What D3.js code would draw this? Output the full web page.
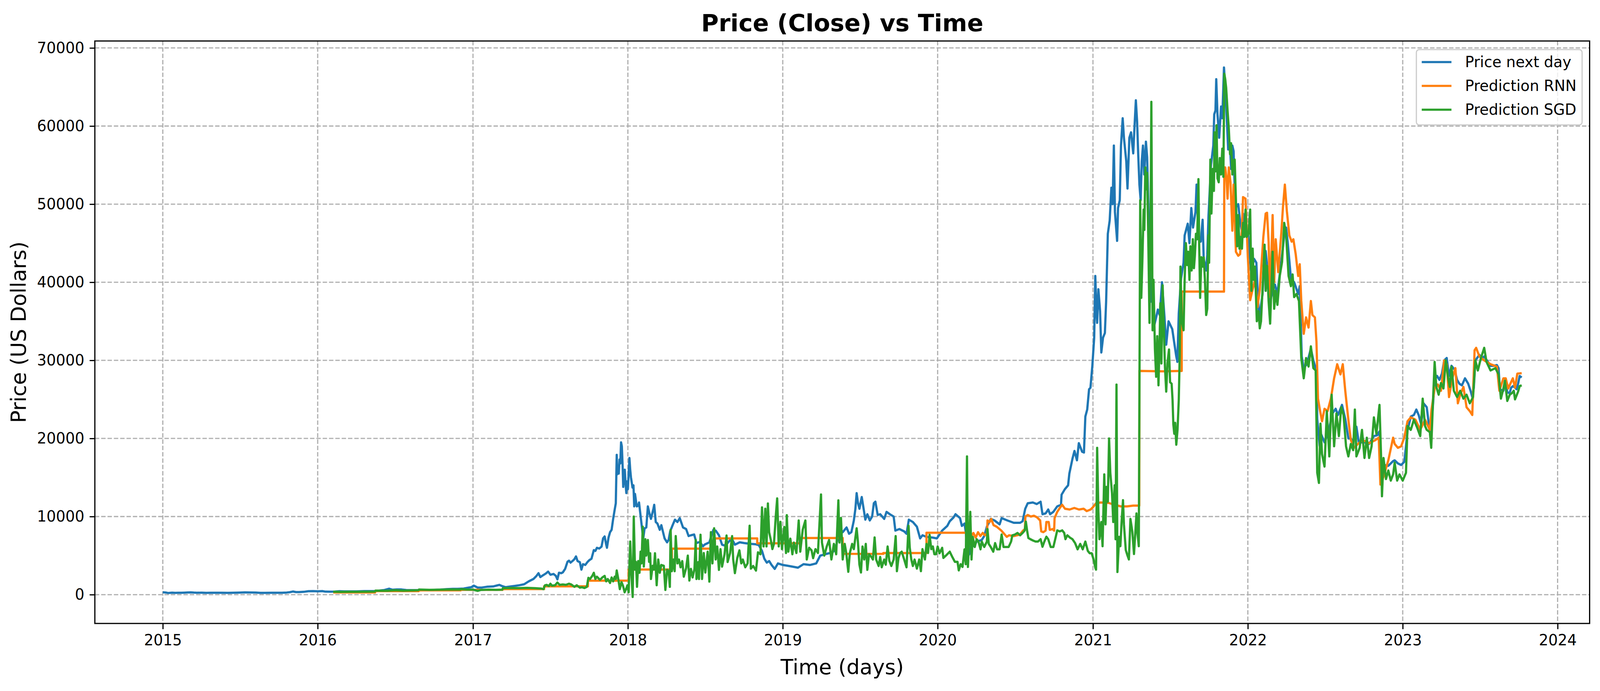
<!DOCTYPE html>
<meta charset="UTF-8">
<style>
  html, body { margin: 0; padding: 0; background: #fff; overflow: hidden; }
  svg { display: block; }
  text { font-family: "DejaVu Sans", sans-serif; }
</style>
<svg></svg>
<script src="https://d3js.org/d3.v7.min.js"></script>
<script>

// time is given as a decimal year, value in US dollars
var priceNextDay = [
  [2015.000,315],[2015.010,285],[2015.020,270],[2015.035,210],[2015.045,230],[2015.060,255],[2015.080,225],[2015.100,240],
  [2015.120,235],[2015.140,255],[2015.160,275],[2015.180,290],[2015.200,260],[2015.220,245],[2015.250,250],[2015.280,225],
  [2015.310,235],[2015.340,240],[2015.380,237],[2015.420,230],[2015.450,245],[2015.480,255],[2015.500,265],[2015.530,285],
  [2015.560,280],[2015.600,265],[2015.630,225],[2015.660,230],[2015.700,240],[2015.740,236],[2015.770,245],[2015.800,270],
  [2015.820,315],[2015.840,400],[2015.860,330],[2015.880,325],[2015.910,360],[2015.940,440],[2015.970,455],[2016.000,430],
  [2016.030,450],[2016.050,385],[2016.080,380],[2016.110,395],[2016.140,435],[2016.170,415],[2016.210,416],[2016.250,420],
  [2016.300,450],[2016.340,455],[2016.380,450],[2016.400,530],[2016.430,590],[2016.460,760],[2016.480,630],[2016.510,670],
  [2016.540,660],[2016.570,590],[2016.600,575],[2016.650,580],[2016.700,605],[2016.750,610],[2016.790,640],[2016.830,700],
  [2016.870,735],[2016.900,740],[2016.940,780],[2016.970,890],[2016.990,960],
  [2017.005,1150],[2017.030,900],[2017.060,920],[2017.090,1010],[2017.130,1050],[2017.170,1250],[2017.190,1080],[2017.210,960],
  [2017.240,1040],[2017.270,1120],[2017.300,1210],[2017.330,1330],[2017.360,1700],[2017.390,2000],[2017.410,2400],[2017.423,2750],
  [2017.435,2250],[2017.450,2450],[2017.470,2700],[2017.485,2950],[2017.500,2550],[2017.520,2650],[2017.535,2400],[2017.545,1950],
  [2017.555,2800],[2017.570,2750],[2017.580,2850],[2017.595,3300],[2017.610,4200],[2017.620,4350],[2017.630,4100],[2017.645,4350],
  [2017.655,4550],[2017.665,4900],[2017.675,4300],[2017.690,4150],[2017.700,3200],[2017.710,3900],[2017.725,3800],[2017.740,4200],
  [2017.750,4400],[2017.765,4600],[2017.780,5700],[2017.790,5600],[2017.800,6000],[2017.815,5900],[2017.830,6150],[2017.840,7200],
  [2017.850,7450],[2017.860,6400],[2017.865,6000],[2017.875,7300],[2017.885,8000],[2017.895,8300],[2017.905,9700],[2017.915,10900],
  [2017.922,11700],[2017.928,17900],[2017.931,15400],[2017.936,16500],[2017.941,15500],[2017.946,17300],[2017.951,16800],[2017.956,19500],
  [2017.961,19000],[2017.966,16500],[2017.970,13800],[2017.975,15500],[2017.980,16000],[2017.985,14200],[2017.990,13000],[2017.995,14500],
  [2018.000,13500],[2018.010,17500],[2018.015,16000],[2018.020,15000],[2018.030,13700],[2018.036,14000],[2018.041,11300],[2018.046,12900],
  [2018.057,11300],[2018.067,11400],[2018.072,11800],[2018.082,10100],[2018.093,8200],[2018.098,7000],[2018.108,8500],[2018.119,8600],
  [2018.129,11300],[2018.139,10400],[2018.149,9700],[2018.165,11000],[2018.170,11500],[2018.180,9300],[2018.191,9100],[2018.206,8300],
  [2018.216,8900],[2018.237,7200],[2018.253,6700],[2018.263,7000],[2018.273,8100],[2018.289,8900],[2018.304,9600],[2018.320,9300],
  [2018.335,9800],[2018.356,8600],[2018.376,8400],[2018.392,7500],[2018.407,7600],[2018.428,7700],[2018.443,6600],[2018.464,6750],
  [2018.485,6200],[2018.495,6400],[2018.526,6700],[2018.552,8300],[2018.567,8200],[2018.588,7600],[2018.608,6400],[2018.624,6300],
  [2018.639,6500],[2018.670,7200],[2018.691,6400],[2018.722,6700],[2018.753,6600],[2018.794,6500],[2018.825,6450],[2018.845,6350],
  [2018.866,5600],[2018.881,4600],[2018.897,4100],[2018.912,4300],[2018.928,3800],[2018.948,3300],[2018.969,4000],[2018.985,3900],
  [2019.000,3800],[2019.031,3700],[2019.072,3550],[2019.098,3450],[2019.134,3900],[2019.175,3800],[2019.216,4000],[2019.242,5000],
  [2019.278,5200],[2019.320,5400],[2019.340,5800],[2019.361,7800],[2019.387,8000],[2019.412,8600],[2019.428,7800],[2019.443,8000],
  [2019.459,9500],[2019.469,11000],[2019.477,13000],[2019.485,11800],[2019.495,11000],[2019.510,12500],[2019.526,10500],[2019.533,9600],
  [2019.546,10300],[2019.562,9500],[2019.577,10000],[2019.588,11700],[2019.598,11900],[2019.613,10200],[2019.629,10300],[2019.655,9700],
  [2019.670,10600],[2019.691,10300],[2019.716,10000],[2019.727,8200],[2019.753,8400],[2019.784,8100],[2019.799,7800],[2019.814,9600],
  [2019.840,9300],[2019.866,8700],[2019.887,7200],[2019.902,7600],[2019.928,7400],[2019.969,7300],[2019.995,7200],
  [2020.029,8200],[2020.062,8800],[2020.078,9400],[2020.103,9900],[2020.115,10300],[2020.144,9800],[2020.156,8800],[2020.173,9100],
  [2020.181,8000],[2020.189,6400],[2020.198,5000],[2020.206,5300],[2020.218,6400],[2020.235,6200],[2020.251,6800],[2020.284,7000],
  [2020.300,7500],[2020.317,8700],[2020.342,9700],[2020.366,9500],[2020.399,9000],[2020.412,9800],[2020.449,9500],[2020.490,9200],
  [2020.531,9200],[2020.547,9400],[2020.564,11000],[2020.580,11700],[2020.613,11800],[2020.638,11600],[2020.663,11900],[2020.675,10300],
  [2020.695,10400],[2020.712,10900],[2020.724,10300],[2020.745,10600],[2020.770,11300],[2020.794,11500],[2020.798,12800],[2020.819,13500],
  [2020.840,14000],[2020.848,15500],[2020.868,17400],[2020.881,18400],[2020.897,17200],[2020.909,19400],[2020.930,18300],[2020.942,18200],
  [2020.951,22800],[2020.963,23700],[2020.975,26300],[2020.984,26500],[2020.996,29300],
  [2021.008,32900],[2021.015,40800],[2021.023,36000],[2021.027,34800],[2021.035,39100],[2021.046,36300],[2021.054,31000],[2021.065,32900],
  [2021.077,33500],[2021.085,37500],[2021.096,46200],[2021.108,47900],[2021.119,52100],[2021.127,50000],[2021.135,57500],[2021.142,49000],
  [2021.156,45300],[2021.162,49500],[2021.173,50500],[2021.181,57500],[2021.192,61000],[2021.200,58500],[2021.215,55500],[2021.223,52000],
  [2021.235,58500],[2021.246,59200],[2021.260,56500],[2021.269,60200],[2021.277,63300],[2021.285,60600],[2021.292,56500],[2021.300,52500],
  [2021.308,50500],[2021.315,55500],[2021.323,57500],[2021.331,53800],[2021.342,58000],[2021.350,56000],[2021.358,49300],[2021.365,43000],
  [2021.373,37500],[2021.385,40000],[2021.396,34500],[2021.408,35500],[2021.419,36500],[2021.431,35800],[2021.446,40000],[2021.462,35500],
  [2021.473,32000],[2021.488,35000],[2021.500,34500],[2021.512,34000],[2021.523,32500],[2021.538,30500],[2021.545,29800],[2021.554,36000],
  [2021.569,40500],[2021.585,42500],[2021.592,46000],[2021.612,47500],[2021.623,45000],[2021.635,49500],[2021.646,47000],[2021.662,49000],
  [2021.669,52500],[2021.681,46000],[2021.696,45200],[2021.708,48000],[2021.715,43000],[2021.731,41500],[2021.738,43500],[2021.746,48500],
  [2021.762,55000],[2021.777,57500],[2021.783,61500],[2021.791,62000],[2021.796,66000],[2021.804,61500],[2021.815,58500],[2021.827,62500],
  [2021.835,61000],[2021.846,67500],[2021.854,65000],[2021.865,60500],[2021.873,57000],[2021.885,57500],[2021.892,54500],[2021.900,57500],
  [2021.908,56800],[2021.919,49500],[2021.938,50000],[2021.950,47800],[2021.962,46500],[2021.969,48800],[2021.988,47000],
  [2022.000,46500],[2022.020,41500],[2022.030,42000],[2022.040,43000],[2022.055,42500],[2022.065,38000],[2022.075,35000],[2022.085,37000],
  [2022.095,38500],[2022.105,42500],[2022.115,44000],[2022.124,42300],[2022.144,37400],[2022.160,39000],[2022.175,39700],[2022.190,38500],
  [2022.206,41000],[2022.227,44500],[2022.237,46500],[2022.247,47000],[2022.258,45000],[2022.278,40500],[2022.299,40000],[2022.325,38500],
  [2022.335,39500],[2022.340,36000],[2022.348,30500],[2022.360,29000],[2022.381,29500],[2022.407,31500],[2022.423,30000],[2022.438,29000],
  [2022.445,26600],[2022.448,22500],[2022.464,19000],[2022.474,20500],[2022.495,19500],[2022.520,20800],[2022.546,23200],[2022.567,23800],
  [2022.582,23000],[2022.608,24300],[2022.629,22500],[2022.649,20000],[2022.665,20000],[2022.680,19500],[2022.701,21500],[2022.716,19500],
  [2022.753,19500],[2022.783,19300],[2022.814,20300],[2022.835,20400],[2022.850,20900],[2022.858,16500],[2022.866,17000],[2022.876,16600],
  [2022.907,16500],[2022.938,17100],[2022.948,17200],[2022.969,16800],[2022.990,16600],
  [2023.010,17000],[2023.021,19000],[2023.031,21000],[2023.052,22800],[2023.072,23000],[2023.088,23700],[2023.103,23000],[2023.119,21800],
  [2023.134,24500],[2023.155,24000],[2023.165,22400],[2023.180,20200],[2023.196,24500],[2023.206,27500],[2023.222,28000],[2023.237,27500],
  [2023.253,28300],[2023.268,30000],[2023.284,30300],[2023.299,28000],[2023.315,29300],[2023.335,28800],[2023.351,27500],[2023.366,27000],
  [2023.382,26800],[2023.402,27700],[2023.423,27000],[2023.438,26100],[2023.449,25300],[2023.459,26500],[2023.469,30000],[2023.495,30700],
  [2023.510,30200],[2023.526,30500],[2023.547,29900],[2023.567,29300],[2023.588,29300],[2023.608,29400],[2023.619,29000],[2023.627,26300],
  [2023.650,26100],[2023.665,27600],[2023.675,25900],[2023.690,25800],[2023.700,26500],[2023.712,26700],[2023.725,26500],[2023.735,26300],
  [2023.745,27000],[2023.755,28000],[2023.768,27800]
];

var predictionRNN = [
  [2016.100,280],[2016.370,280],[2016.370,450],[2016.650,450],[2016.650,550],[2016.920,550],[2016.920,620],[2017.191,620],
  [2017.191,710],[2017.459,710],[2017.459,1070],[2017.742,1070],[2017.742,1790],[2018.005,1790],[2018.005,3210],[2018.284,3210],
  [2018.284,5890],[2018.562,5890],[2018.562,7200],[2018.835,7200],[2018.835,6580],[2019.113,6580],[2019.113,7250],[2019.387,7250],
  [2019.387,5220],[2019.649,5220],[2019.649,5330],[2019.928,5330],[2019.928,7920],[2020.181,7920],
  [2020.185,7700],[2020.200,7800],[2020.215,7400],[2020.230,7900],[2020.245,7300],[2020.260,8000],[2020.275,7500],[2020.290,7900],
  [2020.305,7600],[2020.318,7800],[2020.321,9500],[2020.335,9300],[2020.345,9700],[2020.360,8900],[2020.380,8700],[2020.410,8200],
  [2020.445,7400],[2020.460,7600],[2020.490,7500],[2020.510,7600],[2020.530,7700],[2020.550,8200],[2020.562,8400],[2020.565,10000],
  [2020.580,10200],[2020.600,10000],[2020.620,10100],[2020.640,9900],[2020.660,9500],[2020.667,8100],[2020.680,8000],[2020.695,8200],
  [2020.700,9300],[2020.715,9300],[2020.722,8300],[2020.740,8400],[2020.750,8200],[2020.753,9800],[2020.770,10600],[2020.790,11200],
  [2020.802,11500],[2020.820,11000],[2020.850,10900],[2020.880,11100],[2020.910,10900],[2020.940,11000],[2020.960,10700],[2020.985,10900],
  [2021.000,11200],[2021.020,11700],[2021.050,11800],[2021.100,11750],[2021.140,11500],[2021.180,11300],[2021.220,11300],[2021.260,11400],
  [2021.299,11400],[2021.300,28650],[2021.450,28600],[2021.573,28650],[2021.573,38800],[2021.700,38800],[2021.846,38800],[2021.848,54700],
  [2021.854,54700],[2021.862,53300],[2021.869,50700],[2021.877,54700],[2021.888,52800],[2021.900,46600],[2021.908,52500],[2021.923,43900],
  [2021.938,43400],[2021.950,43600],[2021.962,46900],[2021.969,50900],[2021.985,50700],[2022.000,43200],[2022.015,37700],[2022.031,39100],
  [2022.046,40300],[2022.062,36800],[2022.077,39000],[2022.100,45800],[2022.115,48800],
  [2022.124,48900],[2022.134,45200],[2022.144,38100],[2022.160,48600],[2022.170,40000],[2022.180,45500],[2022.196,41300],[2022.216,46300],
  [2022.227,49700],[2022.239,52500],[2022.252,49100],[2022.268,46000],[2022.283,45200],[2022.294,45500],[2022.309,43600],[2022.325,40800],
  [2022.335,42300],[2022.345,37600],[2022.361,33400],[2022.376,35500],[2022.392,34200],[2022.407,37600],[2022.417,35800],[2022.433,35500],
  [2022.443,32400],[2022.453,25100],[2022.464,23800],[2022.479,22200],[2022.495,23800],[2022.515,23500],[2022.536,25100],[2022.557,27700],
  [2022.577,29500],[2022.598,28200],[2022.613,29500],[2022.629,26100],[2022.649,22400],[2022.665,19800],[2022.686,18800],[2022.711,19300],
  [2022.742,19800],[2022.783,19400],[2022.825,19800],[2022.845,20100],[2022.856,14100],[2022.876,15100],[2022.907,17200],[2022.938,20100],
  [2022.948,19300],[2022.969,18800],[2022.990,19000],[2023.010,20100],[2023.031,22200],[2023.052,22700],[2023.082,22400],[2023.113,21100],
  [2023.144,22400],[2023.175,21100],[2023.186,23700],[2023.206,26400],[2023.227,26900],[2023.247,26100],[2023.268,30000],[2023.284,29500],
  [2023.299,25300],[2023.320,27700],[2023.340,29000],[2023.356,24500],[2023.371,25600],[2023.392,26600],[2023.412,24000],[2023.433,23500],
  [2023.449,23000],[2023.464,31300],[2023.474,31600],[2023.495,30500],[2023.526,30000],[2023.567,29500],[2023.608,29200],[2023.624,26100],
  [2023.650,27700],[2023.665,27700],[2023.681,26400],[2023.711,27700],[2023.725,26500],[2023.740,28300],[2023.768,28360]
];

var predictionSGD = [
  [2016.100,380],[2016.150,350],[2016.200,370],[2016.250,360],[2016.300,380],[2016.368,390],[2016.372,520],[2016.450,500],
  [2016.500,560],[2016.550,520],[2016.600,540],[2016.648,560],[2016.652,650],[2016.720,620],[2016.800,640],[2016.860,660],
  [2016.918,650],[2016.922,700],[2016.960,650],[2017.000,640],[2017.030,480],[2017.050,600],[2017.100,640],[2017.150,620],
  [2017.189,640],[2017.193,830],[2017.250,850],[2017.300,840],[2017.350,870],[2017.400,830],[2017.440,780],[2017.455,700],
  [2017.465,1200],[2017.475,1250],[2017.490,1100],[2017.500,1400],[2017.510,1150],[2017.530,1200],[2017.545,1550],[2017.560,1250],
  [2017.580,1300],[2017.600,1250],[2017.620,1400],[2017.635,1300],[2017.655,1000],[2017.670,1200],[2017.690,900],[2017.705,950],
  [2017.720,850],[2017.735,1000],[2017.745,2150],[2017.755,2000],[2017.770,2400],[2017.780,2800],[2017.790,2000],[2017.800,2300],
  [2017.820,1900],[2017.835,2200],[2017.850,2400],[2017.860,1700],[2017.870,2000],[2017.885,1500],[2017.895,2200],[2017.905,1700],
  [2017.915,2300],[2017.922,2000],[2017.928,3100],[2017.938,2000],[2017.948,700],[2017.959,1600],[2017.969,1100],[2017.979,300],
  [2017.990,800],[2017.997,1200],
  [2018.005,300],[2018.015,6800],[2018.023,2500],[2018.031,-300],[2018.038,10000],[2018.046,3200],[2018.052,4200],[2018.059,1000],
  [2018.067,4300],[2018.075,2800],[2018.082,5500],[2018.088,4000],[2018.096,8700],[2018.103,3600],[2018.113,7100],[2018.119,5000],
  [2018.129,7000],[2018.137,4200],[2018.144,5300],[2018.149,2000],[2018.160,3700],[2018.168,3200],[2018.175,5300],[2018.186,1200],
  [2018.196,4500],[2018.206,2800],[2018.216,3800],[2018.232,3700],[2018.242,600],[2018.253,3200],[2018.263,3000],[2018.271,1000],
  [2018.276,8300],[2018.284,3000],[2018.294,4500],[2018.302,3000],[2018.309,7500],[2018.320,4000],[2018.330,4500],[2018.340,3500],
  [2018.351,4300],[2018.361,2300],[2018.376,3400],[2018.387,5000],[2018.397,1800],[2018.407,3300],[2018.418,2200],[2018.430,3300],
  [2018.438,7000],[2018.443,2000],[2018.454,4170],[2018.459,2000],[2018.469,7670],[2018.479,2000],[2018.490,5330],[2018.500,2830],
  [2018.515,5500],[2018.526,1670],[2018.536,8000],[2018.546,4000],[2018.557,8500],[2018.567,4500],[2018.577,6170],[2018.588,3170],
  [2018.598,5830],[2018.608,3580],[2018.624,5170],[2018.637,7580],[2018.644,4170],[2018.660,5330],[2018.673,7500],[2018.680,4500],
  [2018.691,2750],[2018.706,4670],[2018.720,5670],[2018.732,4000],[2018.742,4500],[2018.758,3500],[2018.773,4000],[2018.786,8830],
  [2018.794,3330],[2018.809,3670],[2018.827,3080],[2018.840,5420],[2018.856,5170],[2018.866,11170],[2018.876,6170],[2018.887,11000],
  [2018.895,6170],[2018.904,11670],[2018.912,8000],[2018.923,7000],[2018.933,5830],[2018.943,6500],[2018.956,10330],[2018.964,12330],
  [2018.974,6170],[2018.985,9330],[2018.995,5830],
  [2019.010,8670],[2019.021,5330],[2019.026,10170],[2019.036,5500],[2019.049,7170],[2019.062,5170],[2019.072,6670],[2019.088,5330],
  [2019.103,9500],[2019.113,5500],[2019.129,8330],[2019.146,9500],[2019.155,4500],[2019.170,6000],[2019.186,5670],[2019.196,4670],
  [2019.211,5830],[2019.227,5330],[2019.247,12830],[2019.253,6670],[2019.268,5000],[2019.284,6170],[2019.299,7000],[2019.314,4500],
  [2019.330,6500],[2019.345,5170],[2019.359,12080],[2019.366,6670],[2019.376,9830],[2019.387,4500],[2019.400,6500],[2019.410,5330],
  [2019.423,2920],[2019.433,5330],[2019.448,6500],[2019.459,5830],[2019.469,7330],[2019.477,8500],[2019.485,6830],[2019.495,3830],
  [2019.505,2830],[2019.515,6170],[2019.526,4500],[2019.536,6500],[2019.546,3170],[2019.557,5170],[2019.572,4830],[2019.582,4500],
  [2019.593,7330],[2019.603,4500],[2019.619,3670],[2019.629,4830],[2019.639,3500],[2019.655,4500],[2019.665,3830],[2019.677,6170],
  [2019.688,4330],[2019.701,3670],[2019.716,4500],[2019.729,7500],[2019.737,3000],[2019.747,4670],[2019.758,5330],[2019.768,5500],
  [2019.784,4500],[2019.799,3500],[2019.812,8830],[2019.820,6000],[2019.830,4500],[2019.840,3670],[2019.851,4500],[2019.866,3330],
  [2019.881,4500],[2019.892,3000],[2019.902,5830],[2019.918,4500],[2019.928,6500],[2019.938,5330],[2019.948,7670],[2019.959,5830],
  [2019.969,6170],[2019.979,5170],[2019.990,5170],
  [2020.000,6170],[2020.012,5300],[2020.029,6000],[2020.037,4700],[2020.053,5000],[2020.078,5500],[2020.095,4800],[2020.111,4200],
  [2020.128,4200],[2020.136,3100],[2020.148,3900],[2020.160,3550],[2020.173,5800],[2020.181,3900],[2020.189,17700],[2020.195,3550],
  [2020.202,6800],[2020.210,10600],[2020.218,4500],[2020.226,7400],[2020.239,6100],[2020.251,7100],[2020.263,6800],[2020.276,5800],
  [2020.284,6800],[2020.300,6100],[2020.317,6800],[2020.321,8400],[2020.329,6500],[2020.342,6100],[2020.358,5500],[2020.370,6600],
  [2020.383,5800],[2020.399,5800],[2020.412,7700],[2020.424,6100],[2020.440,6100],[2020.457,6100],[2020.473,6800],[2020.481,7600],
  [2020.498,7700],[2020.514,7900],[2020.531,7600],[2020.547,7900],[2020.560,8200],[2020.568,9350],[2020.576,8200],[2020.584,7260],
  [2020.597,7100],[2020.613,6940],[2020.630,6800],[2020.646,6800],[2020.663,7100],[2020.675,6130],[2020.687,6800],[2020.700,7420],
  [2020.712,7100],[2020.728,6100],[2020.745,6100],[2020.757,7100],[2020.770,8230],[2020.786,8100],[2020.802,8230],[2020.815,7900],
  [2020.823,7100],[2020.835,7600],[2020.852,7300],[2020.868,7100],[2020.885,6600],[2020.901,5800],[2020.918,6500],[2020.934,5800],
  [2020.951,6800],[2020.967,5600],[2020.979,5300],[2020.992,5300],
  [2021.004,4500],[2021.016,3400],[2021.020,3200],[2021.027,18800],[2021.035,10700],[2021.042,7100],[2021.054,9300],[2021.062,6200],
  [2021.073,15400],[2021.081,9000],[2021.088,13800],[2021.096,11900],[2021.104,20000],[2021.112,15600],[2021.123,13000],[2021.131,9300],
  [2021.140,14000],[2021.146,7100],[2021.152,26900],[2021.158,2900],[2021.169,7400],[2021.177,6200],[2021.185,9300],[2021.194,12100],
  [2021.200,9000],[2021.212,5700],[2021.223,5000],[2021.232,4500],[2021.242,9700],[2021.254,8100],[2021.265,5200],[2021.273,7800],
  [2021.281,10400],[2021.288,7800],[2021.296,6200],[2021.305,50500],[2021.312,38000],[2021.319,42700],[2021.327,49300],[2021.332,46700],
  [2021.338,54700],[2021.344,51900],[2021.350,54000],[2021.358,44600],[2021.365,34800],[2021.373,50500],[2021.377,63100],[2021.385,33850],
  [2021.391,40300],[2021.400,31500],[2021.408,27900],[2021.415,33100],[2021.423,26800],[2021.431,33100],[2021.435,37300],[2021.442,29600],
  [2021.450,39600],[2021.458,33850],[2021.465,29100],[2021.473,26000],[2021.481,29600],[2021.491,31400],[2021.498,27200],[2021.508,27000],
  [2021.514,24900],[2021.519,21800],[2021.525,20600],[2021.531,22000],[2021.538,19200],[2021.546,21100],[2021.554,24900],[2021.560,30500],
  [2021.565,42000],[2021.573,35000],[2021.585,33850],[2021.592,40300],[2021.600,45000],[2021.608,42200],[2021.615,43900],[2021.623,40300],
  [2021.629,44600],[2021.637,41500],[2021.645,45500],[2021.652,41800],[2021.658,43400],[2021.665,46200],[2021.673,45500],[2021.681,53200],
  [2021.686,44600],[2021.692,38000],[2021.700,43200],[2021.708,42000],[2021.715,43200],[2021.723,40300],[2021.731,35800],[2021.738,36600],
  [2021.745,46000],[2021.750,42500],[2021.758,55700],[2021.765,48800],[2021.773,54500],[2021.781,51700],[2021.785,59200],[2021.792,54200],
  [2021.798,60100],[2021.804,53300],[2021.812,52800],[2021.819,55900],[2021.827,53800],[2021.835,57100],[2021.842,53500],[2021.848,66700],
  [2021.854,66000],[2021.860,64900],[2021.869,62000],[2021.877,59700],[2021.885,56400],[2021.892,57800],[2021.900,53800],[2021.908,55600],
  [2021.915,55700],[2021.923,50500],[2021.931,44600],[2021.938,48600],[2021.946,44300],[2021.954,45800],[2021.962,44300],[2021.969,47600],
  [2021.977,45800],[2021.985,49300],[2021.992,45800],
  [2022.004,46200],[2022.015,49300],[2022.023,38900],[2022.031,44300],[2022.038,40300],[2022.046,42000],[2022.058,35000],[2022.069,36300],
  [2022.077,34100],[2022.085,35000],[2022.096,39600],[2022.108,44800],[2022.115,38900],[2022.124,42100],[2022.134,37600],[2022.144,34700],
  [2022.160,43900],[2022.170,36600],[2022.180,38900],[2022.191,37100],[2022.206,40800],[2022.221,42600],[2022.235,47600],[2022.247,46000],
  [2022.263,40800],[2022.278,39500],[2022.289,41000],[2022.299,38100],[2022.314,38500],[2022.330,37600],[2022.345,30300],[2022.361,27700],
  [2022.376,30300],[2022.392,29200],[2022.407,31800],[2022.423,29000],[2022.438,28700],[2022.448,15600],[2022.459,14300],[2022.469,21900],
  [2022.479,18000],[2022.495,16400],[2022.510,23500],[2022.526,17700],[2022.541,25600],[2022.557,19000],[2022.572,23200],[2022.588,20300],
  [2022.603,24000],[2022.618,23000],[2022.634,19000],[2022.649,17700],[2022.665,19300],[2022.680,18500],[2022.691,23700],[2022.701,17700],
  [2022.722,18800],[2022.737,21100],[2022.753,17500],[2022.768,20100],[2022.783,17500],[2022.799,19000],[2022.814,22700],[2022.830,20600],
  [2022.850,24300],[2022.861,17200],[2022.866,12600],[2022.876,17500],[2022.892,14800],[2022.907,15900],[2022.923,14600],[2022.938,15400],
  [2022.948,16900],[2022.964,14600],[2022.979,15400],
  [2023.000,14600],[2023.021,15600],[2023.031,21600],[2023.052,21100],[2023.072,22400],[2023.093,21400],[2023.113,20300],[2023.129,25100],
  [2023.144,21600],[2023.155,21100],[2023.175,20800],[2023.184,18800],[2023.196,25100],[2023.206,29800],[2023.217,26600],[2023.232,25600],
  [2023.247,27100],[2023.263,26400],[2023.278,30000],[2023.294,27700],[2023.304,26600],[2023.315,29200],[2023.330,26100],[2023.351,25300],
  [2023.371,26100],[2023.392,25100],[2023.412,25600],[2023.433,24500],[2023.454,25300],[2023.469,30000],[2023.485,28700],[2023.505,30300],
  [2023.526,31600],[2023.541,29800],[2023.567,28700],[2023.598,29000],[2023.619,28200],[2023.634,25100],[2023.650,26400],[2023.660,27400],
  [2023.675,24800],[2023.691,25600],[2023.705,25800],[2023.717,26100],[2023.725,25000],[2023.745,26000],[2023.755,26700],[2023.768,26800]
];

var seriesNames = ["Price next day", "Prediction RNN", "Prediction SGD"];
var seriesColors = ["#1f77b4", "#ff7f0e", "#2ca02c"];
var yearTicks = [2015, 2016, 2017, 2018, 2019, 2020, 2021, 2022, 2023, 2024];
var priceTicks = [0, 10000, 20000, 30000, 40000, 50000, 60000, 70000];

// decimal year -> Date
function toDate(t) {
    var yr = Math.floor(t),
        a = Date.UTC(yr, 0, 1),
        b = Date.UTC(yr + 1, 0, 1);
    return new Date(a + (t - yr) * (b - a));
}

// layout is worked out for a 4470x1770 page and stretched to the real window
var W = window.innerWidth || 4470,
    H = window.innerHeight || 1770,
    sx = W / 4470, sy = H / 1770,
    s = Math.min(sx, sy),
    pt = 300 / 72;   // figure was saved at 300 dpi

var svg = d3.select("svg").attr("width", W).attr("height", H),
    margin = {top: 105 * sy, right: 29 * sx, bottom: 173 * sy, left: 265 * sx},
    width = W - margin.left - margin.right,
    height = H - margin.top - margin.bottom,
    g = svg.append("g").attr("transform", "translate(" + margin.left + "," + margin.top + ")");

var allSeries = [priceNextDay, predictionRNN, predictionSGD];
var all = d3.merge(allSeries);

// matplotlib style 5% margins
var tExt = d3.extent(all, function(d) { return toDate(d[0]).getTime(); });
var tPad = (tExt[1] - tExt[0]) * 0.05;
var vExt = d3.extent(all, function(d) { return d[1]; });
var vPad = (vExt[1] - vExt[0]) * 0.05;

var x = d3.scaleUtc().domain([new Date(tExt[0] - tPad), new Date(tExt[1] + tPad)]).range([0, width]);
var y = d3.scaleLinear().domain([vExt[0] - vPad, vExt[1] + vPad]).range([height, 0]);

var thin = 0.8 * pt * s,
    gridColor = "#b0b0b0",
    dash = (3.7 * thin).toFixed(1) + "," + (1.6 * thin).toFixed(1);

// grid
g.append("g").selectAll("line").data(yearTicks).enter().append("line")
    .attr("x1", function(d) { return x(toDate(d)); })
    .attr("x2", function(d) { return x(toDate(d)); })
    .attr("y1", 0).attr("y2", height)
    .attr("stroke", gridColor).attr("stroke-width", thin).attr("stroke-dasharray", dash);

g.append("g").selectAll("line").data(priceTicks).enter().append("line")
    .attr("y1", function(d) { return y(d); })
    .attr("y2", function(d) { return y(d); })
    .attr("x1", 0).attr("x2", width)
    .attr("stroke", gridColor).attr("stroke-width", thin).attr("stroke-dasharray", dash);

// lines
var line = d3.line()
    .x(function(d) { return x(toDate(d[0])); })
    .y(function(d) { return y(d[1]); });

allSeries.forEach(function(ser, i) {
    g.append("path")
        .datum(ser)
        .attr("fill", "none")
        .attr("stroke", seriesColors[i])
        .attr("stroke-width", 1.5 * pt * s)
        .attr("stroke-linejoin", "round")
        .attr("d", line);
});

// axes
var tickLen = 3.5 * pt, tickFont = 10 * pt * s;

var xAxis = g.append("g")
    .attr("transform", "translate(0," + height + ")")
    .call(d3.axisBottom(x)
        .tickValues(yearTicks.map(toDate))
        .tickFormat(d3.utcFormat("%Y"))
        .tickSize(tickLen * sy).tickPadding(tickLen * sy).tickSizeOuter(0));

var yAxis = g.append("g")
    .call(d3.axisLeft(y)
        .tickValues(priceTicks)
        .tickFormat(function(d) { return String(d); })
        .tickSize(tickLen * sx).tickPadding(tickLen * sx).tickSizeOuter(0));

[xAxis, yAxis].forEach(function(a) {
    a.select(".domain").remove();
    a.selectAll(".tick line").attr("stroke", "#000").attr("stroke-width", thin);
    a.selectAll(".tick text")
        .attr("fill", "#000")
        .style("font-family", "DejaVu Sans")
        .style("font-size", tickFont + "px");
});

// frame
g.append("rect")
    .attr("width", width).attr("height", height)
    .attr("fill", "none").attr("stroke", "#000").attr("stroke-width", thin);

// labels
svg.append("text")
    .attr("x", margin.left + width / 2).attr("y", 80 * sy)
    .attr("text-anchor", "middle")
    .style("font-size", (16 * pt * s) + "px").style("font-weight", "bold")
    .text("Price (Close) vs Time");

svg.append("text")
    .attr("x", margin.left + width / 2).attr("y", 1727 * sy)
    .attr("text-anchor", "middle")
    .style("font-size", (14 * pt * s) + "px")
    .text("Time (days)");

svg.append("text")
    .attr("transform", "translate(" + (72 * sx) + "," + (margin.top + height / 2) + ") rotate(-90)")
    .attr("text-anchor", "middle")
    .style("font-size", (14 * pt * s) + "px")
    .text("Price (US Dollars)");

// legend
var legend = svg.append("g").attr("transform", "translate(" + (3957 * sx) + "," + (127 * sy) + ")");

legend.append("rect")
    .attr("width", 463 * sx).attr("height", 193 * sy)
    .attr("rx", 8 * s).attr("ry", 8 * s)
    .attr("fill", "#fff").attr("fill-opacity", 0.8)
    .attr("stroke", "#cccccc").attr("stroke-width", thin);

seriesNames.forEach(function(name, i) {
    var ly = (32 + i * 61) * sy;
    legend.append("line")
        .attr("x1", 15 * sx).attr("x2", 98 * sx)
        .attr("y1", ly).attr("y2", ly)
        .attr("stroke", seriesColors[i]).attr("stroke-width", 1.5 * pt * s);
    legend.append("text")
        .attr("x", 136 * sx).attr("y", ly + 0.34 * tickFont)
        .style("font-size", tickFont + "px")
        .text(name);
});

</script>
